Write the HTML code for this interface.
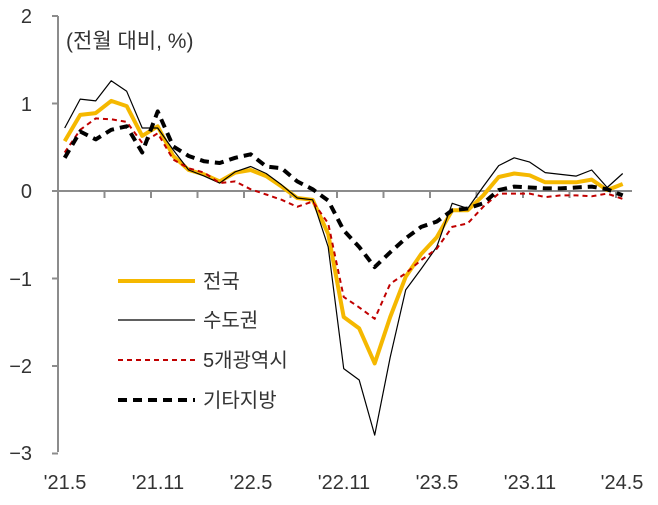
<!DOCTYPE html>
<html><head><meta charset="utf-8"><style>
body{margin:0;background:#fff;}
svg text{font-family:"Liberation Sans","Noto Sans CJK KR",sans-serif;fill:#333;}
</style></head><body>
<svg id="c" width="658" height="500" xmlns="http://www.w3.org/2000/svg">
<g stroke="#8c8c8c" stroke-width="2" fill="none" id="ax">
<line x1="58" y1="16" x2="58" y2="452"/>
</g>
<g font-size="20" text-anchor="end">
<text x="32" y="23">2</text>
<text x="32" y="111">1</text>
<text x="32" y="198">0</text>
<text x="32" y="286">−1</text>
<text x="32" y="373">−2</text>
<text x="32" y="460">−3</text>
</g>
<text x="66" y="48" font-size="21">(전월 대비, %)</text>
<g font-size="20" text-anchor="middle">
<text x="65" y="489">'21.5</text>
<text x="158" y="489">'21.11</text>
<text x="251" y="489">'22.5</text>
<text x="344" y="489">'22.11</text>
<text x="437" y="489">'23.5</text>
<text x="530" y="489">'23.11</text>
<text x="622" y="489">'24.5</text>
</g>
<g id="series" fill="none"></g>
<g font-size="20">
<line x1="118" y1="281" x2="195" y2="281" stroke="#f5b800" stroke-width="4"/>
<text x="203" y="288">전국</text>
<line x1="118" y1="320" x2="195" y2="320" stroke="#000" stroke-width="1.2"/>
<text x="203" y="327">수도권</text>
<line x1="118" y1="360" x2="195" y2="360" stroke="#c00000" stroke-width="2" stroke-dasharray="5,4"/>
<text x="203" y="367">5개광역시</text>
<line x1="118" y1="400" x2="195" y2="400" stroke="#000" stroke-width="4" stroke-dasharray="9,6"/>
<text x="203" y="407">기타지방</text>
</g>
</svg>
<script>
var ns="http://www.w3.org/2000/svg";
var ax=document.getElementById('ax');
function ln(p,x1,y1,x2,y2){var l=document.createElementNS(ns,'line');l.setAttribute('x1',x1);l.setAttribute('y1',y1);l.setAttribute('x2',x2);l.setAttribute('y2',y2);p.appendChild(l);}
ln(ax,58,191,632,191);
for(var v=2;v>=-3;v--){var y=191-87.5*v;ln(ax,52,y,58,y);}
for(var m=1;m<=12;m++){var x=58+15.5*3*m;if(x<=633)ln(ax,x,191,x,198);}
var S={
thin:[0.72,1.05,1.03,1.26,1.14,0.72,0.72,0.47,0.24,0.17,0.09,0.22,0.28,0.2,0.07,-0.08,-0.1,-0.64,-2.03,-2.16,-2.79,-1.9,-1.13,-0.89,-0.64,-0.14,-0.2,0.05,0.29,0.38,0.33,0.21,0.19,0.17,0.24,0.04,0.2],
yel:[0.57,0.87,0.89,1.03,0.97,0.63,0.74,0.4,0.24,0.19,0.11,0.21,0.24,0.17,0.05,-0.08,-0.1,-0.49,-1.44,-1.57,-1.97,-1.44,-0.98,-0.72,-0.53,-0.22,-0.22,-0.05,0.16,0.2,0.18,0.1,0.1,0.1,0.13,0.01,0.08],
red:[0.44,0.7,0.83,0.82,0.79,0.55,0.66,0.36,0.26,0.21,0.09,0.11,0.02,-0.04,-0.1,-0.18,-0.12,-0.37,-1.21,-1.33,-1.46,-1.06,-0.94,-0.79,-0.66,-0.41,-0.37,-0.18,-0.03,-0.03,-0.03,-0.07,-0.05,-0.05,-0.06,-0.03,-0.09],
blk:[0.38,0.68,0.59,0.7,0.74,0.44,0.91,0.51,0.4,0.34,0.32,0.38,0.42,0.28,0.26,0.11,0.02,-0.11,-0.45,-0.64,-0.87,-0.7,-0.54,-0.41,-0.35,-0.22,-0.2,-0.14,0.01,0.05,0.04,0.03,0.03,0.04,0.05,0.02,-0.05]};
function pl(d,st,w,da){var p=document.createElementNS(ns,'polyline');var pts=d.map(function(v,k){return (64.7+15.5*k).toFixed(1)+','+(191-87.5*v).toFixed(1)}).join(' ');p.setAttribute('points',pts);p.setAttribute('stroke',st);p.setAttribute('stroke-width',w);p.setAttribute('stroke-linejoin','round');if(da)p.setAttribute('stroke-dasharray',da);document.getElementById('series').appendChild(p);}
pl(S.yel,'#f5b800',4);
pl(S.thin,'#000',1.2);
pl(S.red,'#c00000',2,'5,4');
pl(S.blk,'#000',4,'9,6');
</script>
</body></html>
